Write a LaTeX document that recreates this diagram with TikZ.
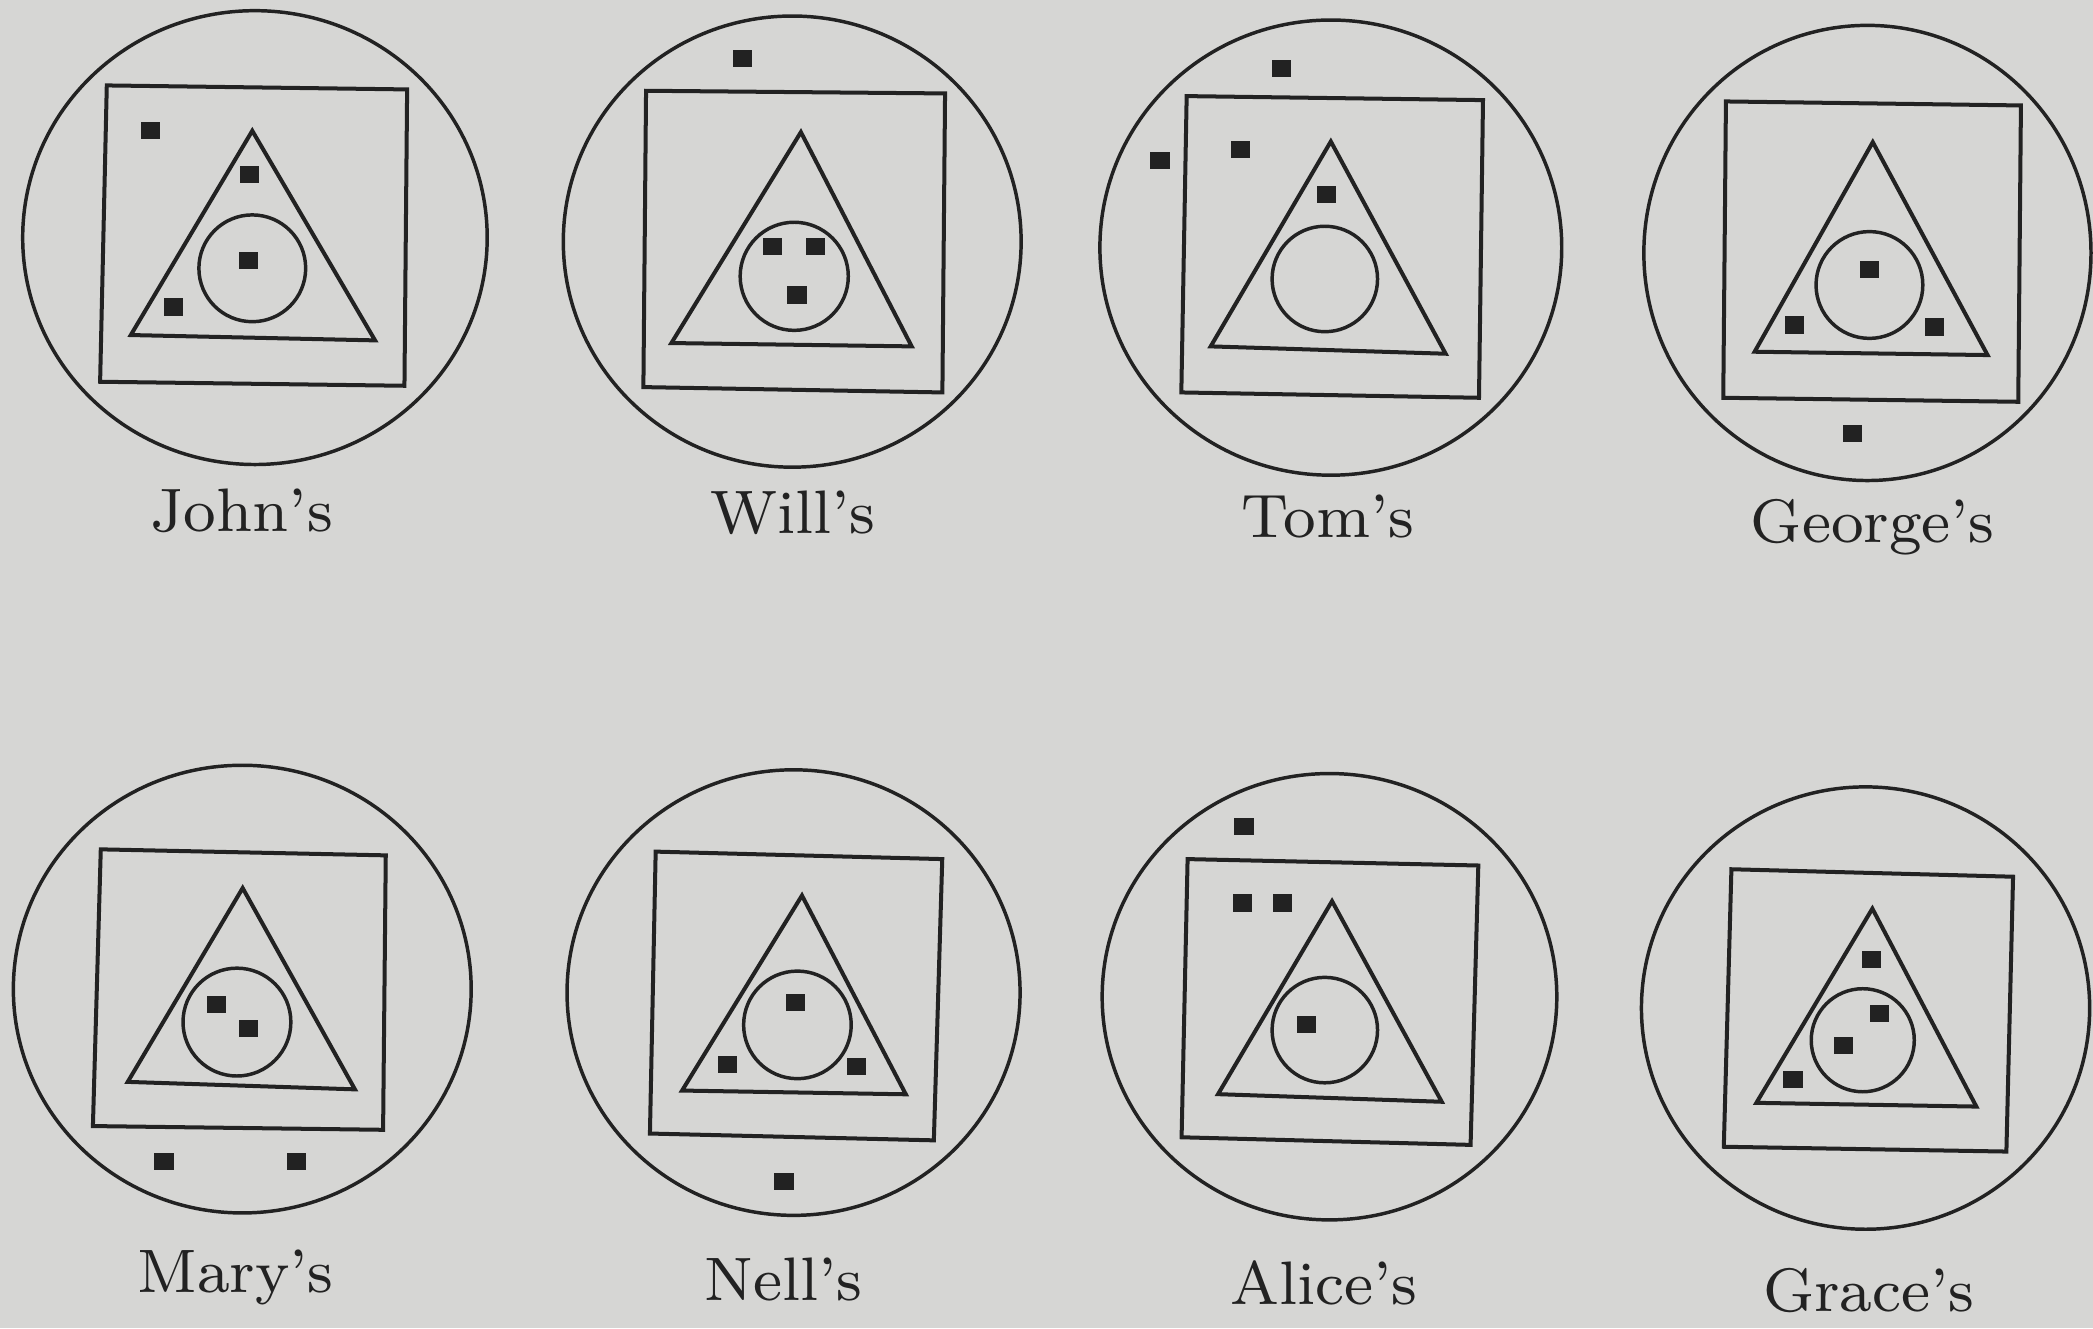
\documentclass[tikz,border=0pt]{standalone}
\usepackage{fontspec}
\usepackage{tikz}
\newfontfamily\labfont{lmroman8-regular.otf}
\definecolor{ink}{RGB}{34,34,34}
\definecolor{paper}{RGB}{214,214,212}
\newcommand\sqdot[1]{\node[dotsq] at (#1) {};}
\begin{document}
\begin{tikzpicture}[x=0.5pt,y=-0.5pt,
  outer/.style={draw=ink,line width=1.3pt},
  sq/.style={draw=ink,line width=1.5pt,line join=miter},
  tri/.style={draw=ink,line width=1.5pt,line join=miter},
  inner/.style={draw=ink,line width=1.3pt},
  dotsq/.style={rectangle,fill=ink,inner sep=0pt,minimum width=7.2pt,minimum height=6.4pt},
  lab/.style={anchor=base,text=ink,font=\labfont\fontsize{23}{27}\selectfont,inner sep=0pt}]
\fill[paper] (0,0) rectangle (1568,995);
\useasboundingbox (0,0) rectangle (1568,995);

% ---------- John's ----------
\draw[outer] (191,178) ellipse [x radius=174, y radius=170];
\draw[sq] (80,64) -- (305,67) -- (303,289) -- (75,286) -- cycle;
\draw[tri] (189,98) -- (281,255) -- (98,251) -- cycle;
\draw[inner] (189,201) circle [radius=40];
\sqdot{113,98}\sqdot{187,131}\sqdot{186,195}\sqdot{130,230}
\node[lab] (lJohn) at (181,398) {John’s};

% ---------- Will's ----------
\draw[outer] (593.5,181) ellipse [x radius=171.5, y radius=169];
\draw[sq] (484,68) -- (708,70) -- (706,294) -- (482,290) -- cycle;
\draw[tri] (600,99) -- (683,259.5) -- (503,257) -- cycle;
\draw[inner] (595,207) circle [radius=40.5];
\sqdot{556,44}\sqdot{579,185}\sqdot{611,185}\sqdot{597,221}
\node[lab] (lWill) at (594,400) {Will’s};

% ---------- Tom's ----------
\draw[outer] (997,185.5) ellipse [x radius=173, y radius=170.5];
\draw[sq] (889,72) -- (1111,75) -- (1108,298) -- (885,294) -- cycle;
\draw[tri] (997,106) -- (1083,265) -- (907,259.5) -- cycle;
\draw[inner] (992.5,209) circle [radius=39.5];
\sqdot{960,51}\sqdot{869,120}\sqdot{929.5,112}\sqdot{994,146}
\node[lab] (lTom) at (995,402.5) {Tom’s};

% ---------- George's ----------
\draw[outer] (1399,189.5) ellipse [x radius=167.5, y radius=170.5];
\draw[sq] (1293,76) -- (1514,79) -- (1512,301) -- (1291,298) -- cycle;
\draw[tri] (1403,106.5) -- (1489,266) -- (1314.5,263.5) -- cycle;
\draw[inner] (1400.5,213.5) circle [radius=40];
\sqdot{1400.7,202}\sqdot{1344.5,243.5}\sqdot{1449,245}\sqdot{1388,325}
\node[lab] (lGeorge) at (1403,406.5) {George’s};

% ---------- Mary's ----------
\draw[outer] (181.5,741) ellipse [x radius=171.5, y radius=167.7];
\draw[sq] (75.5,636.3) -- (289,640.8) -- (287,846.4) -- (69.6,843.6) -- cycle;
\draw[tri] (181.8,665.3) -- (265.9,816.1) -- (95.7,810.5) -- cycle;
\draw[inner] (177.5,765.7) circle [radius=40.4];
\sqdot{162,752.3}\sqdot{186,770.6}\sqdot{122.8,870.3}\sqdot{222.3,870.3}
\node[lab] (lMary) at (176.5,968.6) {Mary’s};

% ---------- Nell's ----------
\draw[outer] (594.5,743.6) ellipse [x radius=169.7, y radius=166.9];
\draw[sq] (491.2,638) -- (705.9,643.6) -- (699.6,854.3) -- (486.9,849.2) -- cycle;
\draw[tri] (600.8,670.9) -- (678.6,819.8) -- (511,817) -- cycle;
\draw[inner] (597.4,767.8) circle [radius=40.3];
\sqdot{595.8,751}\sqdot{545,797.3}\sqdot{641.4,798.7}\sqdot{587.4,885.2}
\node[lab] (lNell) at (587,974.2) {Nell’s};

% ---------- Alice's ----------
\draw[outer] (996,746.7) ellipse [x radius=170.3, y radius=167.2];
\draw[sq] (889.7,643.6) -- (1107.5,648.4) -- (1101.7,857.7) -- (885.2,852) -- cycle;
\draw[tri] (997.9,675.1) -- (1080.1,825.4) -- (912.5,819.7) -- cycle;
\draw[inner] (992.5,771.7) circle [radius=39.5];
\sqdot{932,618.9}\sqdot{930.7,676.5}\sqdot{961,676.5}\sqdot{978.9,767.8}
\node[lab] (lAlice) at (992,977) {Alice’s};

% ---------- Grace's ----------
\draw[outer] (1397.6,755.2) ellipse [x radius=167.9, y radius=165.7];
\draw[sq] (1297.1,651.2) -- (1508.1,656.8) -- (1503.1,862.7) -- (1291.4,859.1) -- cycle;
\draw[tri] (1402.7,680.7) -- (1480.6,829) -- (1315.8,826.2) -- cycle;
\draw[inner] (1395.5,779.3) circle [radius=38.6];
\sqdot{1402,718.6}\sqdot{1408.2,759.4}\sqdot{1381.3,783.2}\sqdot{1343.3,808.5}
\node[lab] (lGrace) at (1400,982.7) {Grace’s};
\end{tikzpicture}
\end{document}
